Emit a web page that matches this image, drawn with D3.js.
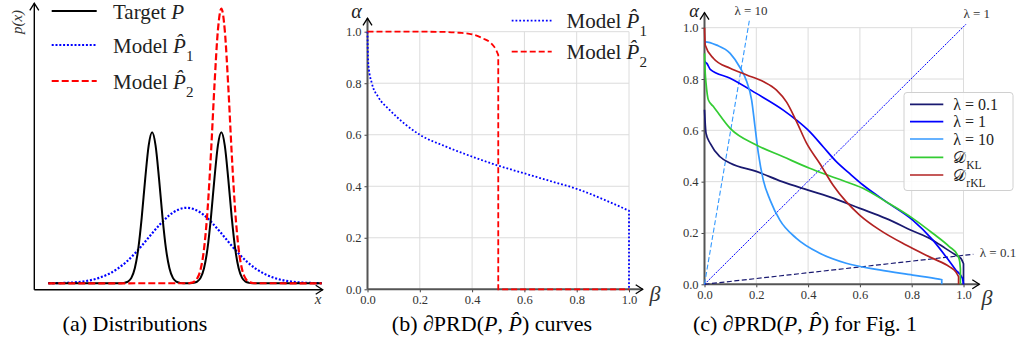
<!DOCTYPE html>
<html><head><meta charset="utf-8">
<script src="https://cdn.jsdelivr.net/npm/d3@7"></script>
<style>
body{margin:0;background:#fff}
svg{display:block}
</style>
</head><body>
<svg id="c" width="1018" height="350"></svg>
<script>
// ---------- (a) Distributions ----------
const targetX = [-4,-2,-1.9,-1.8,-1.7,-1.6,-1.5,-1.4,-1.3,-1.2,-1.1,-1.0,-0.9,-0.8,-0.7,-0.6,-0.5,-0.4,-0.3,-0.2,-0.1,0,0.1,0.2,0.3,0.4,0.5,0.6,0.7,0.8,0.9,1.0,1.1,1.2,1.3,1.4,1.5,1.6,1.7,1.8,1.9,2,3.9];
const targetP = [0,0,0.0006,0.0028,0.011,0.036,0.100,0.229,0.437,0.692,0.912,1.0,0.912,0.692,0.437,0.229,0.100,0.036,0.011,0.0028,0.0006,0.0002,0.0006,0.0028,0.011,0.036,0.100,0.229,0.437,0.692,0.912,1.0,0.912,0.692,0.437,0.229,0.100,0.036,0.011,0.0028,0.0006,0,0];
const model1X = [-4,-3.5,-3,-2.5,-2,-1.75,-1.5,-1.25,-1,-0.75,-0.5,-0.25,0,0.25,0.5,0.75,1,1.25,1.5,1.75,2,2.5,3,3.5,3.9];
const model1P = [0.0007,0.003,0.012,0.038,0.096,0.141,0.197,0.262,0.331,0.396,0.451,0.487,0.5,0.487,0.451,0.396,0.331,0.262,0.197,0.141,0.096,0.038,0.012,0.003,0.001];
const model2X = [-4,0,0.1,0.2,0.3,0.4,0.5,0.6,0.7,0.8,0.9,1.0,1.1,1.2,1.3,1.4,1.5,1.6,1.7,1.8,1.9,2.0,3.9];
const model2P = [0,0.0004,0.0022,0.0087,0.031,0.091,0.228,0.480,0.859,1.305,1.674,1.82,1.674,1.305,0.859,0.480,0.228,0.091,0.031,0.0087,0.0022,0.0004,0];

// ---------- (b) PRD curves ----------
const prdBeta1  = [0,0.001,0.004,0.0167,0.042,0.081,0.145,0.2,0.3,0.4,0.5,0.6,0.7,0.8,0.9,1.0,1.0];
const prdAlpha1 = [1.0,0.93,0.865,0.80,0.745,0.70,0.64,0.60,0.554,0.515,0.48,0.45,0.42,0.39,0.35,0.305,0];
const prdBeta2  = [0,0.2,0.3,0.35,0.4,0.441,0.473,0.492,0.5,0.5,1.0];
const prdAlpha2 = [1.0,1.0,0.999,0.996,0.99,0.974,0.955,0.929,0.91,0,0];

// ---------- (c) PRD for Fig. 1 ----------
const lam01Beta  = [0,0.002,0.006,0.022,0.06,0.1,0.2,0.3,0.4,0.5,0.6,0.7,0.8,0.88,0.93,0.97,0.99,1.0,1.0];
const lam01Alpha = [0.68,0.64,0.588,0.549,0.497,0.472,0.44,0.40,0.367,0.335,0.296,0.257,0.21,0.173,0.14,0.114,0.101,0.08,0];
const lam1Beta   = [0,0.004,0.009,0.022,0.099,0.2,0.304,0.355,0.406,0.458,0.509,0.56,0.612,0.701,0.804,0.881,0.932,0.97,0.996,1.0];
const lam1Alpha  = [0.87,0.865,0.861,0.838,0.803,0.744,0.679,0.64,0.595,0.536,0.478,0.432,0.387,0.322,0.25,0.173,0.108,0.056,0.023,0];
const lam10Beta  = [0,0.003,0.047,0.099,0.137,0.163,0.182,0.195,0.208,0.227,0.253,0.291,0.355,0.445,0.547,0.676,0.804,0.906,0.916,0.916];
const lam10Alpha = [0.945,0.945,0.932,0.9,0.845,0.79,0.718,0.614,0.51,0.406,0.329,0.25,0.179,0.121,0.082,0.056,0.036,0.02,0.018,0];
const klBeta     = [0,0.003,0.006,0.015,0.035,0.099,0.2,0.304,0.406,0.509,0.612,0.701,0.804,0.881,0.945,0.977,0.985,0.988,0.988];
const klAlpha    = [0.9,0.82,0.783,0.718,0.692,0.608,0.543,0.497,0.452,0.413,0.374,0.322,0.257,0.199,0.147,0.114,0.09,0.06,0];
const rklBeta    = [0,0.003,0.035,0.099,0.163,0.227,0.278,0.317,0.355,0.394,0.445,0.496,0.547,0.599,0.676,0.778,0.881,0.945,0.97,0.981,0.981];
const rklAlpha   = [1.0,0.932,0.88,0.842,0.816,0.79,0.757,0.71,0.635,0.55,0.471,0.387,0.322,0.27,0.212,0.153,0.101,0.069,0.049,0.03,0];
// reference lines (start, end)
const refLabels = ["λ = 0.1","λ = 1","λ = 10"];
const refBeta   = [[0,1.038],[0,1.01],[0,0.173]];
const refAlpha  = [[0,0.117],[0,1.014],[0,1.027]];

const ticks = [0,0.2,0.4,0.6,0.8,1.0];
const tickLabels = ["0.0","0.2","0.4","0.6","0.8","1.0"];
const legendC = ["λ = 0.1","λ = 1","λ = 10","𝒟_KL","𝒟_rKL"];
const colorsC = ["#191970","#0000ff","#3399ff","#33cc33","#b22222"];

const FONT = '"Liberation Serif","Times New Roman",serif';
const svg = d3.select("#c").attr("font-family",FONT);

function rich(g, x, y, parts, size, anchor, fill){
  const t = g.append("text").attr("x",x).attr("y",y).attr("font-size",size).attr("font-family",FONT)
    .attr("text-anchor",anchor||"start").attr("fill",fill||"#000");
  parts.forEach(p=>{
    const s = t.append("tspan").text(p.t);
    if(p.i) s.attr("font-style","italic");
    if(p.sub) s.attr("baseline-shift","sub").attr("font-size",size*0.72);
  });
  return t;
}
function zip(a,b){return a.map((v,i)=>[v,b[i]]);}
// smooth where beta increases, straight for vertical drops
function pathFor(x,y,pts){
  let k = pts.length;
  for(let i=1;i<pts.length;i++){ if(pts[i][0]===pts[i-1][0]){k=i;break;} }
  const smooth = pts.slice(0,k);
  let d = d3.line().x(p=>x(p[0])).y(p=>y(p[1])).curve(d3.curveMonotoneX)(smooth);
  pts.slice(k).forEach(p=>{ d += `L${x(p[0])},${y(p[1])}`; });
  return d;
}
function arrowAxes(g, x0, y0, xTip, yTip, color, w){
  g.append("path").attr("d",`M${x0},${y0}L${x0},${yTip}`).attr("stroke",color).attr("stroke-width",w).attr("fill","none");
  g.append("path").attr("d",`M${x0},${y0}L${xTip},${y0}`).attr("stroke",color).attr("stroke-width",w).attr("fill","none");
  g.append("path").attr("d",`M${x0-4.5},${yTip+7}L${x0},${yTip}L${x0+4.5},${yTip+7}`).attr("stroke","#000").attr("stroke-width",1.3).attr("fill","none");
  g.append("path").attr("d",`M${xTip-7},${y0-4.5}L${xTip},${y0}L${xTip-7},${y0+4.5}`).attr("stroke","#000").attr("stroke-width",1.3).attr("fill","none");
}
function label(g,x,y,txt,size,opts){
  const t = g.append("text").attr("x",x).attr("y",y).attr("text-anchor","middle").attr("font-size",size)
    .attr("font-family",FONT).attr("fill",(opts&&opts.fill)||"#222").text(txt);
  if(opts&&opts.italic) t.attr("font-style","italic");
  return t;
}

// ================= Panel (a) =================
{
  const g = svg.append("g");
  const x = d3.scaleLinear().domain([-4,3.9]).range([48.3,321.7]);
  const y = d3.scaleLinear().domain([0,1]).range([283.3,132.3]);
  arrowAxes(g, 34.3, 289.8, 322.7, 3.3, "#000", 1.4);
  const line = d3.line().x(d=>x(d[0])).y(d=>y(d[1])).curve(d3.curveMonotoneX);
  g.append("path").attr("d",line(zip(model1X,model1P))).attr("fill","none").attr("stroke","#0000ff").attr("stroke-width",2.2).attr("stroke-dasharray","2,1.8");
  g.append("path").attr("d",line(zip(targetX,targetP))).attr("fill","none").attr("stroke","#000").attr("stroke-width",2);
  g.append("path").attr("d",line(zip(model2X,model2P))).attr("fill","none").attr("stroke","#ff0000").attr("stroke-width",2.2).attr("stroke-dasharray","7,3");
  g.append("text").attr("transform","translate(22,22) rotate(-90)").attr("text-anchor","middle").attr("font-size",15)
    .attr("font-family",FONT).attr("font-style","italic").attr("fill","#333").text("p(x)");
  label(g,318,304,"x",15,{italic:1,fill:"#333"});
  const items = [
    {c:"#000",d:null,parts:[{t:"Target "},{t:"P",i:1}]},
    {c:"#0000ff",d:"2,1.8",parts:[{t:"Model "},{t:"P\u0302",i:1},{t:"1",sub:1}]},
    {c:"#ff0000",d:"7,3",parts:[{t:"Model "},{t:"P\u0302",i:1},{t:"2",sub:1}]}
  ];
  const ly = [11,45,81];
  items.forEach((it,i)=>{
    const l = g.append("line").attr("x1",51.7).attr("x2",96.7).attr("y1",ly[i]).attr("y2",ly[i]).attr("stroke",it.c).attr("stroke-width",2.2);
    if(it.d) l.attr("stroke-dasharray",it.d);
    rich(g,113,ly[i]+7.5,it.parts,21,"start","#222");
  });
}

// ================= shared PRD panel frame =================
function prdPanel(x, y, xTip, yTip){
  const g = svg.append("g");
  ticks.slice(1).forEach(t=>{
    g.append("line").attr("x1",x(0)).attr("x2",x(1)).attr("y1",y(t)).attr("y2",y(t)).attr("stroke","#dcdcdc").attr("stroke-width",1);
    g.append("line").attr("x1",x(t)).attr("x2",x(t)).attr("y1",y(0)).attr("y2",y(1)).attr("stroke","#dcdcdc").attr("stroke-width",1);
  });
  const ya = d3.axisLeft(y).tickValues(ticks).tickFormat((d,i)=>tickLabels[i]).tickSize(3).tickPadding(3);
  const xa = d3.axisBottom(x).tickValues(ticks).tickFormat((d,i)=>tickLabels[i]).tickSize(3).tickPadding(3);
  const gy = g.append("g").attr("transform",`translate(${x(0)},0)`).call(ya);
  const gx = g.append("g").attr("transform",`translate(0,${y(0)})`).call(xa);
  [gy,gx].forEach(a=>{
    a.attr("font-family",FONT);
    a.select(".domain").remove();
    a.selectAll("line").attr("stroke","#444");
    a.selectAll("text").attr("font-size",12.5).attr("fill","#333").attr("font-family",FONT);
  });
  arrowAxes(g, x(0), y(0), xTip, yTip, "#555", 2);
  return g;
}

// ================= Panel (b) =================
{
  const x = d3.scaleLinear().domain([0,1]).range([367.5,629]);
  const y = d3.scaleLinear().domain([0,1]).range([289.3,31.7]);
  const g = prdPanel(x,y,642.7,18.3);
  g.append("path").attr("d",pathFor(x,y,zip(prdBeta1,prdAlpha1))).attr("fill","none").attr("stroke","#0000ff").attr("stroke-width",1.8).attr("stroke-dasharray","1.8,2");
  g.append("path").attr("d",pathFor(x,y,zip(prdBeta2,prdAlpha2))).attr("fill","none").attr("stroke","#ff0000").attr("stroke-width",1.8).attr("stroke-dasharray","6,3");
  label(g,356.5,17.5,"α",20,{italic:1});
  label(g,655,301,"β",22,{italic:1,fill:"#333"});
  const items = [
    {c:"#0000ff",d:"1.8,2",parts:[{t:"Model "},{t:"P\u0302",i:1},{t:"1",sub:1}]},
    {c:"#ff0000",d:"6,3",parts:[{t:"Model "},{t:"P\u0302",i:1},{t:"2",sub:1}]}
  ];
  const ly = [20.7,51.7];
  items.forEach((it,i)=>{
    g.append("line").attr("x1",511.7).attr("x2",551.7).attr("y1",ly[i]).attr("y2",ly[i]).attr("stroke",it.c).attr("stroke-width",1.8).attr("stroke-dasharray",it.d);
    rich(g,566.5,ly[i]+7,it.parts,21,"start","#222");
  });
}

// ================= Panel (c) =================
{
  const x = d3.scaleLinear().domain([0,1]).range([704.5,963.5]);
  const y = d3.scaleLinear().domain([0,1]).range([284.3,27.7]);
  const g = prdPanel(x,y,979.3,12.7);
  const lineL = d3.line().x(d=>x(d[0])).y(d=>y(d[1]));
  const refStyle = [{c:"#191970",d:"5,2.5",w:1.2},{c:"#0000ff",d:"2,1.2",w:1},{c:"#3399ff",d:"5,2.5",w:1.1}];
  refBeta.forEach((b,i)=>{
    g.append("path").attr("d",lineL(zip(b,refAlpha[i]))).attr("fill","none").attr("stroke",refStyle[i].c).attr("stroke-width",refStyle[i].w).attr("stroke-dasharray",refStyle[i].d);
  });
  const series = [[lam01Beta,lam01Alpha],[lam1Beta,lam1Alpha],[lam10Beta,lam10Alpha],[klBeta,klAlpha],[rklBeta,rklAlpha]];
  series.forEach((s,i)=>{
    g.append("path").attr("d",pathFor(x,y,zip(s[0],s[1]))).attr("fill","none").attr("stroke",colorsC[i]).attr("stroke-width",1.7);
  });
  label(g,694,17,"α",18.5,{italic:1});
  label(g,987,305,"β",22,{italic:1,fill:"#333"});
  const refLabPos = [[998,257],[976.7,18],[751,15]];
  refLabels.forEach((t,i)=> label(g,refLabPos[i][0],refLabPos[i][1],t,13,{fill:"#333"}));
  g.append("rect").attr("x",904).attr("y",92.5).attr("width",109).attr("height",98).attr("rx",3)
    .attr("fill","#fff").attr("fill-opacity",0.85).attr("stroke","#d0d0d0");
  const ly = [104.3,121.7,139,157.3,175];
  legendC.forEach((lab,i)=>{
    g.append("line").attr("x1",910).attr("x2",943.3).attr("y1",ly[i]).attr("y2",ly[i]).attr("stroke",colorsC[i]).attr("stroke-width",1.7);
    const parts = lab.includes("_") ? [{t:lab.split("_")[0]},{t:lab.split("_")[1],sub:1}] : [{t:lab}];
    rich(g,953.3,ly[i]+5.5,parts,16,"start","#222");
  });
}

// ================= Captions =================
const captions = [
  {x:135,parts:[{t:"(a) Distributions"}]},
  {x:492,parts:[{t:"(b) \u2202PRD("},{t:"P",i:1},{t:", "},{t:"P\u0302",i:1},{t:") curves"}]},
  {x:805,parts:[{t:"(c) \u2202PRD("},{t:"P",i:1},{t:", "},{t:"P\u0302",i:1},{t:") for Fig. 1"}]}
];
captions.forEach(c=>rich(svg,c.x,331,c.parts,22,"middle","#000"));
</script>
</body></html>
